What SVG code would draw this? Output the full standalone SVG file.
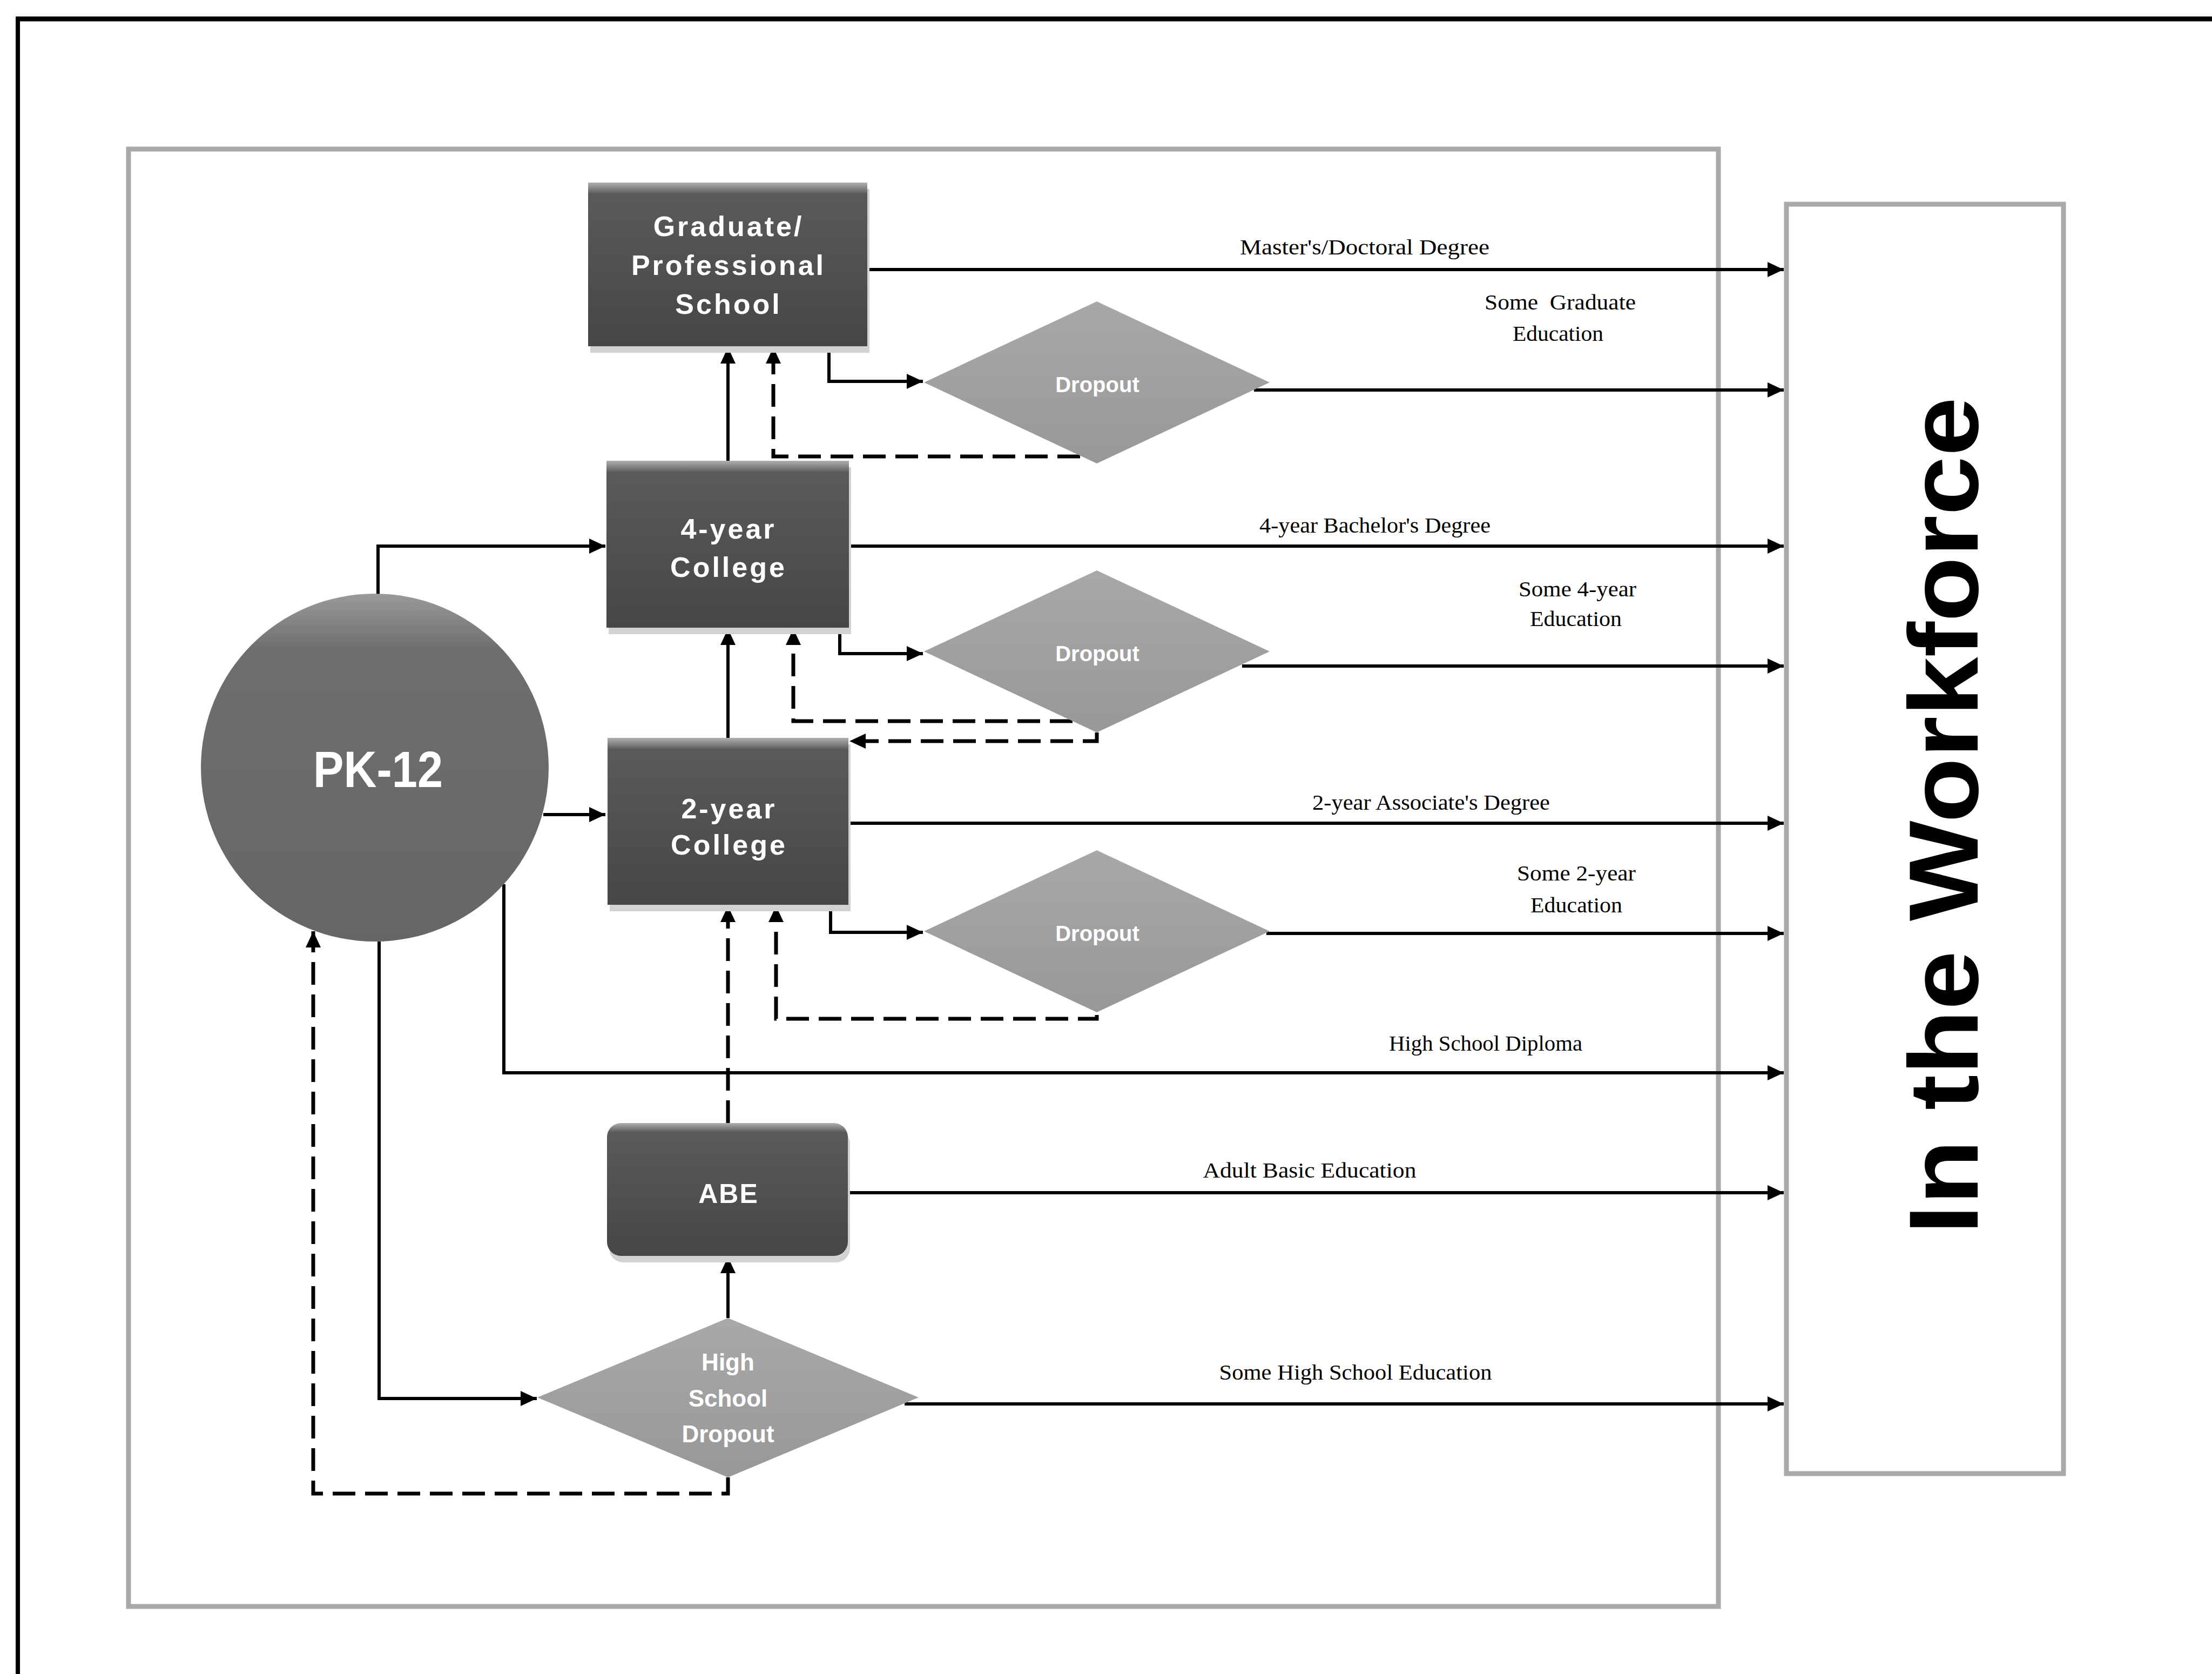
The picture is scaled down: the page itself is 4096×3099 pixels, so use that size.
<svg xmlns="http://www.w3.org/2000/svg" width="4096" height="3099" viewBox="0 0 4096 3099">
<defs>
<style>
.frame{fill:none;stroke:#a9a9a9;stroke-width:9}
.box{fill:url(#boxGrad)}
.shadow{fill:#d2d2d2}
.dia{fill:url(#diaGrad)}
.nodeText{font-family:"Liberation Sans",Arial,sans-serif;font-weight:bold;fill:#ffffff;text-anchor:middle}
.lbl{font-family:"Liberation Serif","Times New Roman",serif;font-size:40px;fill:#000;text-anchor:middle}
.solid{fill:none;stroke:#000;stroke-width:6;marker-end:url(#arrow)}
.dash{fill:none;stroke:#000;stroke-width:7;stroke-dasharray:42 18;marker-end:url(#arrow)}
.dashnm{fill:none;stroke:#000;stroke-width:7;stroke-dasharray:42 18}
</style>
<linearGradient id="boxGrad" x1="0" y1="0" x2="0" y2="1">
<stop offset="0" stop-color="#b0b0b0"/>
<stop offset="0.07" stop-color="#5a5a5a"/>
<stop offset="1" stop-color="#464646"/>
</linearGradient>
<linearGradient id="circGrad" x1="0" y1="0" x2="0" y2="1">
<stop offset="0" stop-color="#9a9a9a"/>
<stop offset="0.16" stop-color="#6e6e6e"/>
<stop offset="1" stop-color="#666666"/>
</linearGradient>
<linearGradient id="diaGrad" x1="0" y1="0" x2="0" y2="1">
<stop offset="0" stop-color="#a8a8a8"/>
<stop offset="1" stop-color="#989898"/>
</linearGradient>
<marker id="arrow" viewBox="0 0 30 28" refX="30" refY="14" markerWidth="30" markerHeight="28" markerUnits="userSpaceOnUse" orient="auto">
<path d="M0 0 L30 14 L0 28 Z" fill="#000"/>
</marker>
</defs>
<rect x="0" y="0" width="4096" height="3099" fill="#ffffff"/>
<g id="page-frame">
<line x1="29" y1="35" x2="4096" y2="35" stroke="#000" stroke-width="9"/>
<line x1="33" y1="31" x2="33" y2="3099" stroke="#000" stroke-width="8"/>
</g>
<g id="left-panel"><rect class="frame" x="238" y="276" width="2944" height="2698"/></g>
<g id="workforce">
<rect class="frame" x="3308" y="378" width="513" height="2350" stroke-width="8"/>
<text transform="translate(3662,1510) rotate(-90)" font-family="'Liberation Sans',Arial,sans-serif" font-weight="bold" font-size="182" text-anchor="middle" textLength="1550" lengthAdjust="spacingAndGlyphs" fill="#000">In the Workforce</text>
</g>
<g id="connectors">
<path class="solid" d="M700 1100 V1011 H1121"/>
<path class="solid" d="M1006 1508 H1121"/>
<path class="solid" d="M933 1637 V1986 H3303"/>
<path class="solid" d="M702 1743 V2589 H994"/>
<path class="solid" d="M1348 2440 V2327"/>
<path class="solid" d="M1348 1366 V1164"/>
<path class="solid" d="M1348 853 V643"/>
<path class="solid" d="M1535 641 V706 H1709"/>
<path class="solid" d="M1555 1162 V1210 H1709"/>
<path class="solid" d="M1538 1675 V1726 H1709"/>
<path class="solid" d="M1606 499 H3303"/>
<path class="solid" d="M2322 722 H3303"/>
<path class="solid" d="M1572 1011 H3303"/>
<path class="solid" d="M2300 1233 H3303"/>
<path class="solid" d="M1571 1524 H3303"/>
<path class="solid" d="M2345 1728 H3303"/>
<path class="solid" d="M1570 2208 H3303"/>
<path class="solid" d="M1675 2599 H3303"/>
<path class="dash" d="M2000 845 H1432 V643"/>
<path class="dash" d="M1986 1335 H1469 V1164"/>
<path class="dash" d="M2031 1356 V1372 H1573"/>
<path class="dash" d="M2031 1879 V1886 H1437 V1677"/>
<path class="dash" d="M1348 2079 V1677"/>
<path class="dash" d="M1348 2735 V2765 H580 V1724"/>
</g>
<g id="pk12">
<circle cx="694" cy="1421" r="322" fill="url(#circGrad)"/>
<text class="nodeText" x="700" y="1457" font-size="94" textLength="240" lengthAdjust="spacingAndGlyphs">PK-12</text>
</g>
<g id="grad">
<rect class="shadow" x="1093" y="350" width="517" height="303"/>
<rect class="box" x="1089" y="338" width="517" height="303"/>
<text class="nodeText" font-size="52" letter-spacing="4"><tspan x="1349" y="437">Graduate/</tspan><tspan x="1349" y="509">Professional</tspan><tspan x="1349" y="581">School</tspan></text>
</g>
<g id="college4">
<rect class="shadow" x="1127" y="865" width="449" height="309"/>
<rect class="box" x="1123" y="853" width="449" height="309"/>
<text class="nodeText" font-size="52" letter-spacing="4"><tspan x="1349" y="997">4-year</tspan><tspan x="1349" y="1068">College</tspan></text>
</g>
<g id="college2">
<rect class="shadow" x="1129" y="1378" width="446" height="309"/>
<rect class="box" x="1125" y="1366" width="446" height="309"/>
<text class="nodeText" font-size="52" letter-spacing="4"><tspan x="1350" y="1515">2-year</tspan><tspan x="1350" y="1582">College</tspan></text>
</g>
<g id="abe">
<rect class="shadow" x="1128" y="2091" width="446" height="246" rx="26"/>
<rect class="box" x="1124" y="2079" width="446" height="246" rx="26"/>
<text class="nodeText" x="1349" y="2227" font-size="50" letter-spacing="2">ABE</text>
</g>
<g id="dropout1">
<polygon class="dia" points="2031,558 2351,708 2031,858 1711,708"/>
<text class="nodeText" x="2032" y="726" font-size="40">Dropout</text>
</g>
<g id="dropout2">
<polygon class="dia" points="2031,1056 2351,1206 2031,1356 1711,1206"/>
<text class="nodeText" x="2032" y="1224" font-size="40">Dropout</text>
</g>
<g id="dropout3">
<polygon class="dia" points="2031,1574 2351,1724 2031,1874 1711,1724"/>
<text class="nodeText" x="2032" y="1742" font-size="40">Dropout</text>
</g>
<g id="hsdropout">
<polygon class="dia" points="1348,2440 1701,2587 1348,2735 995,2587"/>
<text class="nodeText" font-size="44"><tspan x="1348" y="2537">High</tspan><tspan x="1348" y="2604">School</tspan><tspan x="1348" y="2670">Dropout</tspan></text>
</g>
<g id="edge-labels">
<text class="lbl" x="2527" y="471" textLength="462" lengthAdjust="spacingAndGlyphs">Master's/Doctoral Degree</text>
<text class="lbl" x="2889" y="573" textLength="280" lengthAdjust="spacingAndGlyphs" style="white-space:pre">Some  Graduate</text>
<text class="lbl" x="2885" y="631" textLength="168" lengthAdjust="spacingAndGlyphs">Education</text>
<text class="lbl" x="2546" y="986" textLength="428" lengthAdjust="spacingAndGlyphs">4-year Bachelor's Degree</text>
<text class="lbl" x="2921" y="1104" textLength="218" lengthAdjust="spacingAndGlyphs">Some 4-year</text>
<text class="lbl" x="2918" y="1159" textLength="170" lengthAdjust="spacingAndGlyphs">Education</text>
<text class="lbl" x="2650" y="1499" textLength="440" lengthAdjust="spacingAndGlyphs">2-year Associate's Degree</text>
<text class="lbl" x="2919" y="1630" textLength="220" lengthAdjust="spacingAndGlyphs">Some 2-year</text>
<text class="lbl" x="2919" y="1689" textLength="170" lengthAdjust="spacingAndGlyphs">Education</text>
<text class="lbl" x="2751" y="1945" textLength="358" lengthAdjust="spacingAndGlyphs">High School Diploma</text>
<text class="lbl" x="2425" y="2180" textLength="395" lengthAdjust="spacingAndGlyphs">Adult Basic Education</text>
<text class="lbl" x="2510" y="2554" textLength="505" lengthAdjust="spacingAndGlyphs">Some High School Education</text>
</g>
</svg>
